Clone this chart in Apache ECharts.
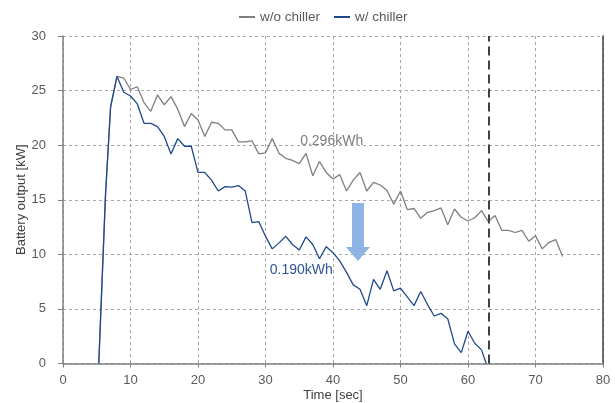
<!DOCTYPE html>
<html>
<head>
<meta charset="utf-8">
<title>Battery output</title>
<script src="https://cdn.jsdelivr.net/npm/echarts@6/dist/echarts.min.js"></script>
<style>
    html, body { margin: 0; padding: 0; background: #fff; }
    #main { width: 615px; height: 403px; }
</style>
</head>
<body>
<div id="main"></div>
<script>
// 时间轴 [sec]
var timeWo = [5.3, 6.3, 7.05, 8, 9, 10, 11, 12, 13, 14, 15, 16, 17, 18, 19, 20, 21, 22, 23, 24, 25, 26, 27, 28, 29,
    30, 31, 32, 33, 34, 35, 36, 37, 38, 39, 40, 41, 42, 43, 44, 45, 46, 47, 48, 49, 50, 51, 52, 53, 54, 55, 56, 57,
    58, 59, 60, 61, 62, 63, 64, 65, 66, 67, 68, 69, 70, 71, 72, 73, 74]
// w/o chiller [kW]
var valWo = [0, 15.5, 23.5, 26.3, 26.15, 25.1, 25.35, 23.9, 23.1, 24.6, 23.7, 24.45, 23.3, 21.7, 22.9, 22.3, 20.8,
    22.1, 22.0, 21.4, 21.4, 20.3, 20.3, 20.4, 19.2, 19.3, 20.6, 19.25, 18.8, 18.6, 18.3, 19.25, 17.2, 18.5, 17.5,
    16.9, 17.3, 15.8, 16.8, 17.5, 15.8, 16.6, 16.35, 15.85, 14.6, 15.8, 14.1, 14.2, 13.3, 13.85, 14.0, 14.25, 12.7,
    14.15, 13.4, 13.05, 13.35, 14.0, 13.0, 13.55, 12.2, 12.2, 12.0, 12.2, 11.2, 11.7, 10.5, 11.1, 11.35, 9.8]

var timeW = [5.3, 6.3, 7.05, 8, 9, 10, 11, 12, 13, 14, 15, 16, 17, 18, 19, 20, 21, 22, 23, 24, 25, 26, 27, 28, 29,
    30, 31, 32, 33, 34, 35, 36, 37, 38, 39, 40, 41, 42, 43, 44, 45, 46, 47, 48, 49, 50, 51, 52, 53, 54, 55, 56, 57,
    58, 59, 60, 61, 62, 62.7]
// w/ chiller [kW]
var valW = [0, 15.5, 23.5, 26.3, 24.85, 24.5, 23.8, 22.0, 22.0, 21.7, 20.8, 19.2, 20.6, 19.9, 19.9, 17.5, 17.5,
    16.8, 15.8, 16.2, 16.15, 16.3, 15.8, 12.9, 13.0, 11.65, 10.5, 11.05, 11.65, 10.9, 10.4, 11.6, 10.9, 9.6, 10.7,
    10.15, 9.4, 8.35, 7.2, 6.8, 5.3, 7.7, 6.8, 8.5, 6.65, 6.9, 6.1, 5.3, 6.6, 5.4, 4.35, 4.6, 4.1, 1.8, 1.0,
    2.95, 1.85, 1.25, 0]

var seriesNames = ['w/o chiller', 'w/ chiller']
var xTicks = [0, 10, 20, 30, 40, 50, 60, 70, 80]
var yTicks = [0, 5, 10, 15, 20, 25, 30]
var endTime = 63 // 虚线位置

// 注释: [x, y]
var noteWo = { text: '0.296kWh', pos: [39.8, 20.4] }
var noteW = { text: '0.190kWh', pos: [35.3, 8.55] }
var arrowX = 43.7
var arrowTop = 14.7
var arrowNeck = 10.67
var arrowTip = 9.4

function pairs(xs, ys) {
    var out = []
    for (var i = 0; i < xs.length; i++) {
        out.push([xs[i], ys[i]])
    }
    return out
}

var GRAY = '#7f7f7f'
var BLUE = '#1f4a8a'
var FONT = 'Liberation Sans'

var myChart = echarts.init(document.getElementById('main'))

var option = {
    animation: false,
    textStyle: { fontFamily: FONT },
    grid: { left: 63, right: 12, top: 36, bottom: 39.5, outerBoundsMode: 'none', containLabel: false },
    legend: {
        top: 5,
        left: 234,
        itemWidth: 16,
        itemHeight: 2,
        itemGap: 14,
        textStyle: { color: '#595959', fontSize: 13.5, fontFamily: FONT },
        data: [
            { name: seriesNames[0], icon: 'rect', itemStyle: { color: GRAY } },
            { name: seriesNames[1], icon: 'rect', itemStyle: { color: BLUE } }
        ]
    },
    xAxis: {
        type: 'value',
        min: xTicks[0],
        max: xTicks[xTicks.length - 1],
        interval: 10,
        name: 'Time [sec]',
        nameLocation: 'middle',
        nameGap: 25,
        nameMoveOverlap: false,
        nameTextStyle: { color: '#404040', fontSize: 13 },
        axisLine: { lineStyle: { color: '#808080', width: 1.5 } },
        axisTick: { show: true, length: 4, lineStyle: { color: '#808080' } },
        axisLabel: { color: '#595959', fontSize: 13, margin: 10 },
        splitLine: { lineStyle: { color: '#a6a6a6', type: [3, 3] } }
    },
    yAxis: [{
        type: 'value',
        min: yTicks[0],
        max: yTicks[yTicks.length - 1],
        interval: 5,
        name: 'Battery output [kW]',
        nameLocation: 'middle',
        nameGap: 35,
        nameMoveOverlap: false,
        nameTextStyle: { color: '#404040', fontSize: 13 },
        axisLine: { show: true, lineStyle: { color: '#808080', width: 1.5 } },
        axisTick: { show: true, length: 5, lineStyle: { color: '#808080' } },
        axisLabel: { color: '#595959', fontSize: 13, margin: 17 },
        splitLine: { lineStyle: { color: '#a6a6a6', type: [3, 3] } }
    }, {
        // 右侧边框
        type: 'value',
        position: 'right',
        min: 0,
        max: 30,
        interval: 5,
        axisLine: { show: true, lineStyle: { color: '#404040', width: 1.5 } },
        axisTick: { show: false },
        axisLabel: { show: false },
        splitLine: { show: false }
    }],
    series: [{
        name: seriesNames[0],
        type: 'line',
        symbol: 'none',
        lineStyle: { color: GRAY, width: 1.3 },
        itemStyle: { color: GRAY },
        data: pairs(timeWo, valWo),
        z: 2
    }, {
        name: seriesNames[1],
        type: 'line',
        symbol: 'none',
        lineStyle: { color: BLUE, width: 1.3 },
        itemStyle: { color: BLUE },
        data: pairs(timeW, valW),
        markLine: {
            silent: true,
            symbol: ['none', 'none'],
            label: { show: false },
            lineStyle: { color: '#404040', width: 2, type: [9, 5] },
            data: [{ xAxis: endTime }]
        },
        z: 3
    }]
}
myChart.setOption(option)

// 注释和箭头 (按数据坐标换算成像素)
function px(p) {
    return myChart.convertToPixel({ gridIndex: 0 }, p)
}
var pTop = px([arrowX, arrowTop])
var pNeck = px([arrowX, arrowNeck])
var pTip = px([arrowX, arrowTip])
var pWo = px(noteWo.pos)
var pW = px(noteW.pos)

myChart.setOption({
    graphic: [{
        type: 'polygon',
        shape: {
            points: [
                [pTop[0] - 6, pTop[1]], [pTop[0] + 6, pTop[1]],
                [pNeck[0] + 6, pNeck[1]], [pNeck[0] + 12, pNeck[1]],
                [pTip[0], pTip[1]],
                [pNeck[0] - 12, pNeck[1]], [pNeck[0] - 6, pNeck[1]]
            ]
        },
        style: { fill: '#8eb4e3' },
        z: 10
    }, {
        type: 'text',
        x: pWo[0],
        y: pWo[1],
        style: { text: noteWo.text, fill: GRAY, font: '14px "Liberation Sans"', align: 'center', verticalAlign: 'middle' },
        z: 10
    }, {
        type: 'text',
        x: pW[0],
        y: pW[1],
        style: { text: noteW.text, fill: '#2f5597', font: '14px "Liberation Sans"', align: 'center', verticalAlign: 'middle' },
        z: 10
    }]
})
</script>
</body>
</html>
